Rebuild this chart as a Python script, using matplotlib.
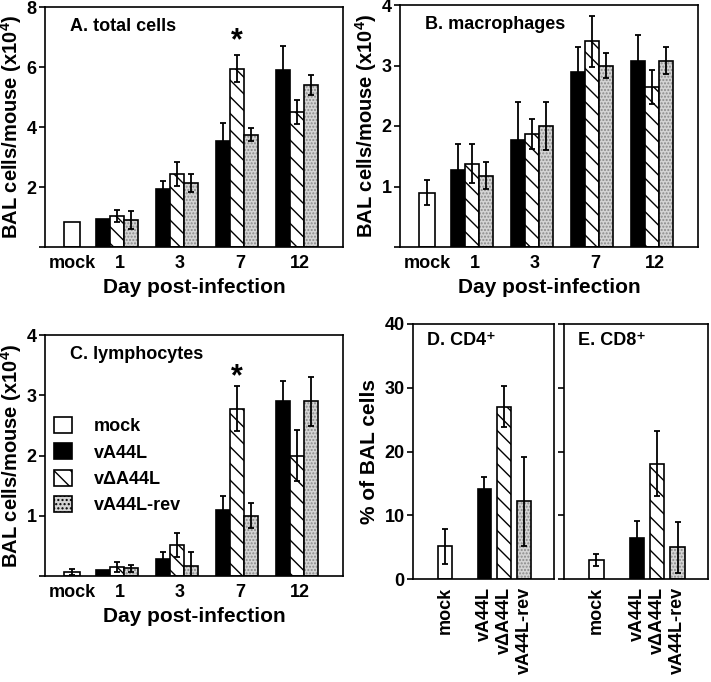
import numpy as np
import matplotlib
matplotlib.use('Agg')
import matplotlib.pyplot as plt
from matplotlib.patches import Patch

plt.rcParams['font.family'] = ['Liberation Sans', 'DejaVu Sans']
plt.rcParams['font.weight'] = 'bold'
plt.rcParams['axes.labelweight'] = 'bold'
plt.rcParams['mathtext.fontset'] = 'custom'
plt.rcParams['mathtext.rm'] = 'Liberation Sans:bold'
plt.rcParams['mathtext.bf'] = 'Liberation Sans:bold'
plt.rcParams['mathtext.default'] = 'bf'
plt.rcParams['hatch.linewidth'] = 1.0

# ---- data ----
days = ['1', '3', '7', '12']
groups = ['vA44L', 'v\u0394A44L', 'vA44L-rev']

# A. total cells (x10^4)
total_mock, total_mock_err = 0.85, 0.0
total_vals = [[0.95, 1.95, 3.55, 5.9],
              [1.05, 2.45, 5.95, 4.5],
              [0.9, 2.15, 3.75, 5.4]]
total_errs = [[0.0, 0.25, 0.6, 0.8],
              [0.2, 0.4, 0.45, 0.4],
              [0.3, 0.3, 0.22, 0.35]]

# B. macrophages
mac_mock, mac_mock_err = 0.9, 0.2
mac_vals = [[1.28, 1.77, 2.9, 3.08],
            [1.38, 1.87, 3.4, 2.65],
            [1.18, 2.0, 3.0, 3.08]]
mac_errs = [[0.42, 0.63, 0.4, 0.43],
            [0.32, 0.25, 0.42, 0.28],
            [0.22, 0.4, 0.2, 0.22]]

# C. lymphocytes
lym_mock, lym_mock_err = 0.07, 0.05
lym_vals = [[0.1, 0.28, 1.1, 2.9],
            [0.15, 0.52, 2.78, 2.0],
            [0.13, 0.17, 1.0, 2.9]]
lym_errs = [[0.0, 0.12, 0.22, 0.34],
            [0.09, 0.2, 0.38, 0.43],
            [0.06, 0.23, 0.21, 0.41]]

# D/E. % of BAL cells
subset_labels = ['mock', 'vA44L', 'v\u0394A44L', 'vA44L-rev']
cd4_vals = [5.1, 14.1, 27.0, 12.2]
cd4_errs = [2.7, 1.9, 3.2, 7.0]
cd8_vals = [3.0, 6.4, 18.1, 5.0]
cd8_errs = [1.0, 2.7, 5.1, 4.0]

# ---- styles ----
GRAY = '#d4d4d4'
styles = [dict(facecolor='black', hatch=None),
          dict(facecolor='white', hatch='\\\\'),
          dict(facecolor=GRAY, hatch='stipple')]
LW = 1.2


def draw_bar(ax, x, h, w, style):
    if style['hatch'] == 'stipple':
        ax.bar(x, h, w, color=GRAY, edgecolor='#8a8a8a', hatch='.....', linewidth=0)
        ax.bar(x, h, w, fill=False, edgecolor='black', linewidth=LW)
    else:
        ax.bar(x, h, w, color=style['facecolor'], edgecolor='black',
               hatch=style['hatch'], linewidth=LW)


def draw_err(ax, x, h, e):
    x, h, e = np.atleast_1d(x), np.atleast_1d(h), np.atleast_1d(e)
    keep = e > 0
    if keep.any():
        ax.errorbar(x[keep], h[keep], yerr=e[keep], fmt='none', ecolor='black',
                    elinewidth=1.3, capsize=2.5, capthick=1.3)


def style_axes(ax):
    for s in ax.spines.values():
        s.set_linewidth(LW)
    ax.tick_params(axis='x', length=0, labelsize=13, pad=6)
    ax.tick_params(axis='y', direction='out', length=4, width=LW, labelsize=13, pad=2)


def day_panel(ax, mock, mock_err, vals, errs, ymax, yticks, title):
    w = 0.235
    pos = np.arange(1, len(days) + 1)
    draw_bar(ax, 0.25, mock, 0.26, dict(facecolor='white', hatch=None))
    draw_err(ax, 0.25, mock, mock_err)
    for i in range(3):
        xs = pos + (i - 1) * w
        for x, v in zip(xs, vals[i]):
            draw_bar(ax, x, v, w, styles[i])
        draw_err(ax, xs, np.array(vals[i]), np.array(errs[i]))
    ax.set_xlim(-0.2, 4.77)
    ax.set_ylim(0, ymax)
    ax.set_xticks([0.25] + list(pos + 0.05))
    ax.set_xticklabels(['mock'] + days)
    ax.set_yticks([0] + yticks)
    ax.set_yticklabels([''] + [str(t) for t in yticks])
    ax.set_xlabel('Day post-infection', fontsize=15, labelpad=4)
    ax.set_ylabel('BAL cells/mouse (x10$^4$)', fontsize=14.5, labelpad=2)
    ax.text(0.085, 0.92, title, transform=ax.transAxes, fontsize=13,
            ha='left', va='center')
    style_axes(ax)


def subset_panel(ax, vals, errs, title):
    xs = np.array([0, 2, 3, 4])
    st = [dict(facecolor='white', hatch=None)] + styles
    for x, v, s in zip(xs, vals, st):
        draw_bar(ax, x, v, 0.7, s)
    draw_err(ax, xs, np.array(vals), np.array(errs))
    ax.set_xlim(-1.6, 5.5)
    ax.set_ylim(0, 40)
    ax.set_yticks([0, 10, 20, 30, 40])
    ax.set_xticks(xs)
    ax.set_xticklabels(subset_labels, rotation=90)
    ax.text(0.1, 0.935, title, transform=ax.transAxes, fontsize=13,
            ha='left', va='center')
    style_axes(ax)


W, H = 711, 682
fig = plt.figure(figsize=(W / 100, H / 100), dpi=100)


def add_axes(l, t, r, b):
    return fig.add_axes([l / W, 1 - b / H, (r - l) / W, (b - t) / H])


axA = add_axes(45, 7, 343, 247)
axB = add_axes(400, 5, 698, 247)
axC = add_axes(45, 335, 343, 576)
axD = add_axes(413, 324, 554, 579)
axE = add_axes(564, 324, 708, 579)

day_panel(axA, total_mock, total_mock_err, total_vals, total_errs, 8, [2, 4, 6, 8], 'A. total cells')
day_panel(axB, mac_mock, mac_mock_err, mac_vals, mac_errs, 4, [1, 2, 3, 4], 'B. macrophages')
day_panel(axC, lym_mock, lym_mock_err, lym_vals, lym_errs, 4, [1, 2, 3, 4], 'C. lymphocytes')

axA.text(3, 6.85, '*', fontsize=22, ha='center', va='center')
axC.text(3, 3.3, '*', fontsize=22, ha='center', va='center')

handles = [Patch(facecolor='white', edgecolor='black', linewidth=LW),
           Patch(facecolor='black', edgecolor='black', linewidth=LW),
           Patch(facecolor='white', edgecolor='black', hatch='\\\\', linewidth=LW),
           Patch(facecolor=GRAY, edgecolor='black', hatch='....', linewidth=LW)]
axC.legend(handles, ['mock'] + groups, loc='upper left', bbox_to_anchor=(0.03, 0.66),
           frameon=False, fontsize=13, handlelength=1.0, handleheight=1.0,
           handletextpad=1.2, labelspacing=0.45, borderpad=0, borderaxespad=0)

subset_panel(axD, cd4_vals, cd4_errs, 'D. CD4\u207a')
subset_panel(axE, cd8_vals, cd8_errs, 'E. CD8\u207a')
axD.set_ylabel('% of BAL cells', fontsize=15, labelpad=4)
axE.set_yticklabels([])

fig.savefig('out.png', dpi=100)
